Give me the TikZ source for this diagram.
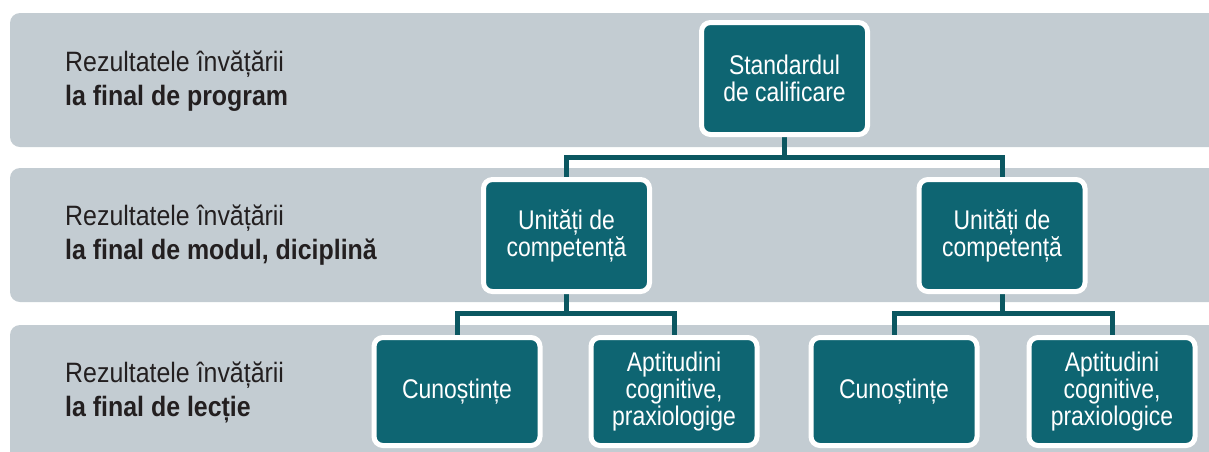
\documentclass[tikz,border=0pt]{standalone}
\usepackage{fontspec}
\setmainfont{Liberation Sans}[FakeStretch=0.86]
\newfontfamily\lblfam{Liberation Sans}[FakeStretch=0.89]
\newfontfamily\bxfam{Liberation Sans}[FakeStretch=0.85]
\usetikzlibrary{calc}
\definecolor{bandgray}{HTML}{C3CCD2}
\definecolor{boxteal}{HTML}{0E6572}
\definecolor{lineteal}{HTML}{0B5761}
\definecolor{labeltext}{HTML}{231F20}
\newcommand\bxfont{\bxfam\fontsize{27}{27}\selectfont}
\newcommand\lblfont{\lblfam\fontsize{28}{34}\selectfont}
\pgfdeclarelayer{back}
\pgfdeclarelayer{mid}
\pgfsetlayers{back,mid,main}
\begin{document}
\begin{tikzpicture}[x=1pt,y=-1pt,
  band/.style={fill=bandgray, rounded corners=10pt},
  box/.style={fill=boxteal, draw=white, line width=5pt, rounded corners=9pt,
    minimum width=166pt, minimum height=112pt, text=white, align=center,
    inner sep=2pt, font=\bxfont},
  lowbox/.style={box, minimum height=108pt},
  lbl/.style={anchor=west, align=left, text=labeltext, inner sep=0pt, font=\lblfont},
  conn/.style={draw=lineteal, line width=5pt, line join=miter}]
\useasboundingbox (0,0) rectangle (1209,451);
\begin{pgfonlayer}{back}
\fill[band] (10,13) rectangle (1240,147);
\fill[band] (10,168) rectangle (1240,302);
\fill[band] (10,325) rectangle (1240,480);
\end{pgfonlayer}
\node[lbl] (l1) at (65,81) {Rezultatele învățării\\\textbf{la final de program}};
\node[lbl] (l2) at (65,235) {Rezultatele învățării\\\textbf{la final de modul, diciplină}};
\node[lbl] (l3) at (65,392) {Rezultatele învățării\\\textbf{la final de lecție}};
\node[box] (std) at (784.5,78.5) {Standardul\\de calificare};
\node[box] (u1) at (566.5,235.5) {Unități de\\competență};
\node[box] (u2) at (1002,235.5) {Unități de\\competență};
\node[lowbox] (c1) at (457,391.5) {Cunoștințe};
\node[lowbox] (a1) at (674,391.5) {Aptitudini\\cognitive,\\praxiologige};
\node[lowbox] (c2) at (894,391.5) {Cunoștințe};
\node[lowbox] (a2) at (1112,391.5) {Aptitudini\\cognitive,\\praxiologice};
\coordinate (j1) at ($(std.south)+(0,20)$);
\coordinate (j2) at ($(u1.south)+(0,19)$);
\coordinate (j3) at ($(u2.south)+(0,19)$);
\begin{pgfonlayer}{mid}
\draw[conn] (std.south) -- (j1);
\draw[conn] (u1.north) |- (j1) -| (u2.north);
\draw[conn] (u1.south) -- (j2);
\draw[conn] (c1.north) |- (j2) -| (a1.north);
\draw[conn] (u2.south) -- (j3);
\draw[conn] (c2.north) |- (j3) -| (a2.north);
\end{pgfonlayer}
\end{tikzpicture}
\end{document}
